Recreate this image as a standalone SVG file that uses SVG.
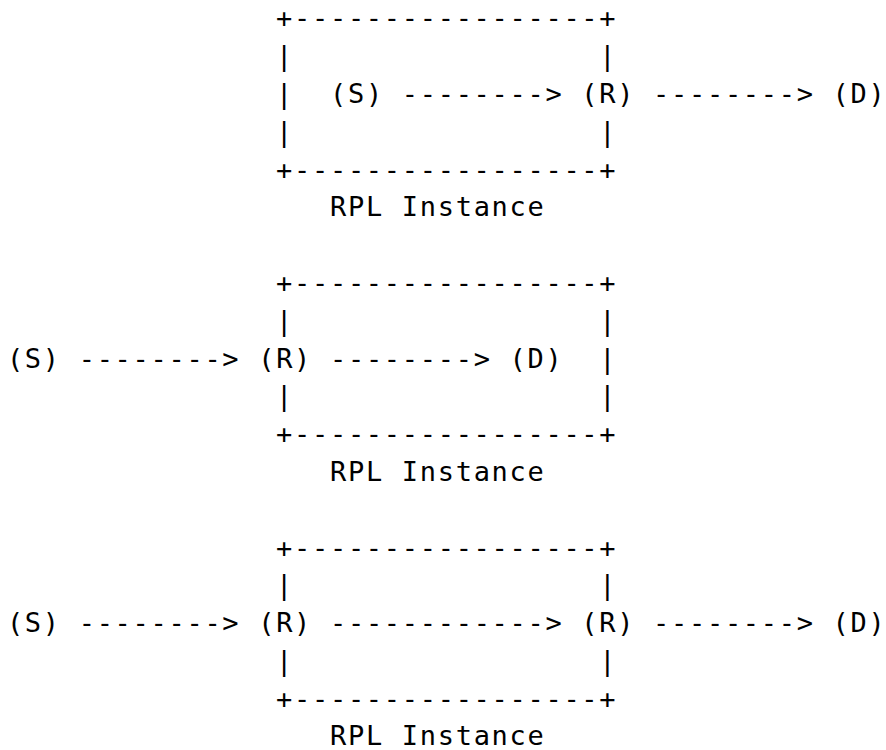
<svg xmlns="http://www.w3.org/2000/svg" width="886" height="750" viewBox="0 0 886 750">
<style>
text { font-family: "DejaVu Sans Mono", "Liberation Mono", monospace; font-size: 27px; letter-spacing: 1.7px; fill: #000; white-space: pre; }
</style>
<rect width="886" height="750" fill="#fff"/>
<!-- Block 1 -->
<g id="box1">
<text x="276.1" y="27.4">+-----------------+</text>
<text x="276.1" y="65.2">|</text><text x="599.2" y="65.2">|</text>
<text x="276.1" y="103">|</text>
<text x="276.1" y="140.8">|</text><text x="599.2" y="140.8">|</text>
<text x="276.1" y="178.6">+-----------------+</text>
<text x="330" y="216.4">RPL Instance</text>
</g>
<g id="s1"><text x="330" y="103">(S)</text></g>
<g id="r1"><text x="581.3" y="103">(R)</text></g>
<g id="d1"><text x="832.6" y="103">(D)</text></g>
<!-- Block 2 -->
<g id="box2">
<text x="276.1" y="292">+-----------------+</text>
<text x="276.1" y="329.8">|</text><text x="599.2" y="329.8">|</text>
<text x="599.2" y="367.6">|</text>
<text x="276.1" y="405.4">|</text><text x="599.2" y="405.4">|</text>
<text x="276.1" y="443.2">+-----------------+</text>
<text x="330" y="481">RPL Instance</text>
</g>
<g id="s2"><text x="6.9" y="367.6">(S)</text></g>
<g id="r2"><text x="258.2" y="367.6">(R)</text></g>
<g id="d2"><text x="509.5" y="367.6">(D)</text></g>
<!-- Block 3 -->
<g id="box3">
<text x="276.1" y="556.6">+-----------------+</text>
<text x="276.1" y="594.4">|</text><text x="599.2" y="594.4">|</text>
<text x="276.1" y="670">|</text><text x="599.2" y="670">|</text>
<text x="276.1" y="707.8">+-----------------+</text>
<text x="330" y="745.4">RPL Instance</text>
</g>
<g id="s3"><text x="6.9" y="632.2">(S)</text></g>
<g id="r3a"><text x="258.2" y="632.2">(R)</text></g>
<g id="r3b"><text x="581.3" y="632.2">(R)</text></g>
<g id="d3"><text x="832.6" y="632.2">(D)</text></g>
<!-- Connectors -->
<g id="connectors">
<text x="401.8" y="103">--------&gt;</text>
<text x="653.1" y="103">--------&gt;</text>
<text x="78.7" y="367.6">--------&gt;</text>
<text x="330" y="367.6">--------&gt;</text>
<text x="78.7" y="632.2">--------&gt;</text>
<text x="330" y="632.2">------------&gt;</text>
<text x="653.1" y="632.2">--------&gt;</text>
</g>
</svg>
